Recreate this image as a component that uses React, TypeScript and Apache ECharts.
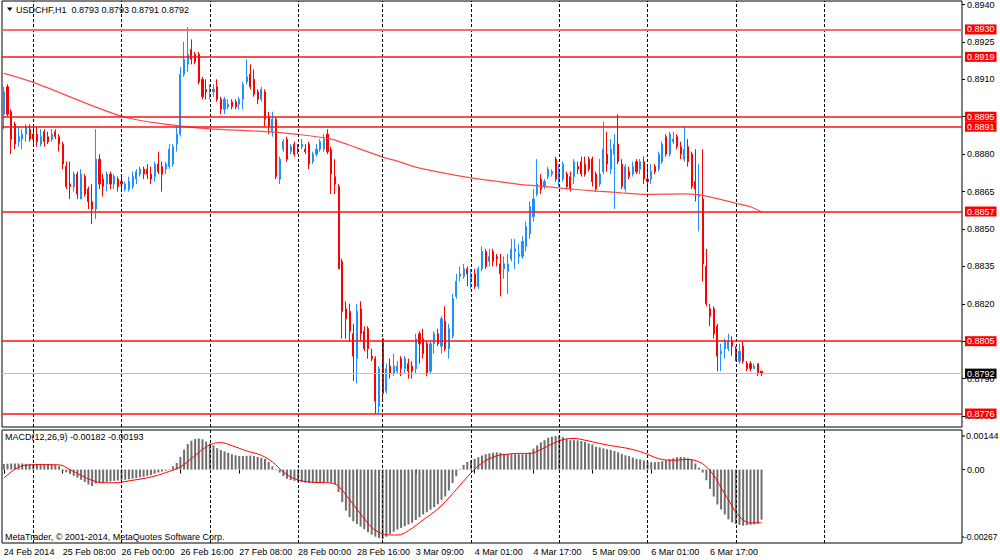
import React, { useEffect, useRef } from "react";
import * as echarts from "echarts";

const N_SLOTS = 261;

const opens = [
  0.8896, 0.8907, 0.8897, 0.8892, 0.8885, 0.8886, 0.8888, 0.889, 0.8888, 0.8888,
  0.8884, 0.8889, 0.8887, 0.8886, 0.8889, 0.8887, 0.8884, 0.8875, 0.8868, 0.8867,
  0.8872, 0.8862, 0.8871, 0.8866, 0.8861, 0.8858, 0.8878, 0.887, 0.8868, 0.8872,
  0.8868, 0.887, 0.8869, 0.8866, 0.8866, 0.8867, 0.887, 0.8872, 0.8874, 0.8874,
  0.8872, 0.8871, 0.8876, 0.8875, 0.8874, 0.8875, 0.8876, 0.8884, 0.8888, 0.8912,
  0.8916, 0.8922, 0.892, 0.892, 0.891, 0.8906, 0.8905, 0.8905, 0.8907, 0.8902,
  0.8898, 0.8899, 0.8901, 0.8901, 0.89, 0.8902, 0.8909, 0.8912, 0.891, 0.8905,
  0.8902, 0.8905, 0.8895, 0.8889, 0.8894, 0.887, 0.8882, 0.8886, 0.8881, 0.8884,
  0.8882, 0.8883, 0.8882, 0.8884, 0.8877, 0.888, 0.8882, 0.8882, 0.8888, 0.8882,
  0.8871, 0.8867, 0.8837, 0.8818, 0.8817, 0.8808, 0.8798, 0.8818, 0.8809, 0.881,
  0.8799, 0.8798, 0.8779, 0.8806, 0.8785, 0.8795, 0.8792, 0.8793, 0.8798, 0.8794,
  0.8796, 0.8795, 0.8794, 0.8808, 0.8806, 0.8804, 0.8793, 0.8804, 0.8808, 0.8803,
  0.8813, 0.8802, 0.8807, 0.8823, 0.8831, 0.8831, 0.8834, 0.883, 0.8832, 0.8827,
  0.8834, 0.8841, 0.8837, 0.8841, 0.8839, 0.8836, 0.8834, 0.8833, 0.8838, 0.8841,
  0.8839, 0.8839, 0.8843, 0.8848, 0.8855, 0.8864, 0.887, 0.8867, 0.8871, 0.8872,
  0.8878, 0.887, 0.887, 0.8872, 0.8871, 0.8871, 0.8875, 0.8877, 0.8876, 0.8878,
  0.8878, 0.8872, 0.8868, 0.8873, 0.888, 0.8874, 0.888, 0.8884, 0.8876, 0.8866,
  0.8873, 0.8872, 0.8877, 0.8874, 0.8877, 0.887, 0.887, 0.8875, 0.8874, 0.8877,
  0.8887, 0.888, 0.8885, 0.8887, 0.8883, 0.8878, 0.8883, 0.888, 0.8869, 0.8863,
  0.8862, 0.8835, 0.8818, 0.8818, 0.8811, 0.88, 0.8802, 0.8802, 0.8805, 0.8802,
  0.8797, 0.8803, 0.8796, 0.8796, 0.8794, 0.8796, 0.8793,
];

const closes = [
  0.8905, 0.8896, 0.8886, 0.8884, 0.8887, 0.8888, 0.8891, 0.8886, 0.8886, 0.8885,
  0.8887, 0.8885, 0.8885, 0.8888, 0.8887, 0.8884, 0.8876, 0.8867, 0.8867, 0.8872,
  0.8864, 0.8872, 0.8864, 0.8861, 0.8858, 0.8878, 0.8868, 0.8867, 0.8872, 0.8868,
  0.8871, 0.8867, 0.8868, 0.8868, 0.8869, 0.8871, 0.8873, 0.8874, 0.8872, 0.8872,
  0.887, 0.8876, 0.8873, 0.8872, 0.8876, 0.8882, 0.8883, 0.8888, 0.8912, 0.8918,
  0.892, 0.8918, 0.8917, 0.8909, 0.8903, 0.8905, 0.8906, 0.8906, 0.8902, 0.8898,
  0.8902, 0.89, 0.8899, 0.8899, 0.8902, 0.8908, 0.8911, 0.8907, 0.8904, 0.8902,
  0.8906, 0.8894, 0.8891, 0.8894, 0.8871, 0.8878, 0.8885, 0.8878, 0.8883, 0.888,
  0.8881, 0.8884, 0.8881, 0.8876, 0.888, 0.8882, 0.8885, 0.8886, 0.8881, 0.8872,
  0.8868, 0.8834, 0.8817, 0.8814, 0.8809, 0.8799, 0.8817, 0.8808, 0.8802, 0.8802,
  0.8798, 0.8781, 0.8794, 0.8784, 0.8794, 0.8792, 0.8795, 0.8795, 0.8794, 0.8798,
  0.8793, 0.8793, 0.8806, 0.8804, 0.88, 0.8792, 0.8804, 0.8808, 0.8804, 0.8814,
  0.8802, 0.881, 0.8822, 0.8829, 0.8832, 0.8834, 0.8832, 0.8832, 0.8827, 0.8834,
  0.8841, 0.8835, 0.8839, 0.8837, 0.8838, 0.8832, 0.8836, 0.8836, 0.8842, 0.8842,
  0.884, 0.8845, 0.8851, 0.8859, 0.8862, 0.8868, 0.8866, 0.8869, 0.8874, 0.8873,
  0.887, 0.8874, 0.8876, 0.8867, 0.8866, 0.8877, 0.8874, 0.8872, 0.8872, 0.8874,
  0.8869, 0.8866, 0.8872, 0.8882, 0.8876, 0.8882, 0.8884, 0.8877, 0.8867, 0.8875,
  0.8871, 0.8875, 0.8873, 0.8877, 0.887, 0.8869, 0.8873, 0.8873, 0.888, 0.8884,
  0.888, 0.8888, 0.8886, 0.8883, 0.888, 0.8882, 0.8877, 0.8867, 0.8866, 0.8864,
  0.8836, 0.882, 0.8815, 0.8808, 0.8799, 0.8801, 0.8805, 0.8805, 0.8803, 0.8798,
  0.8801, 0.8797, 0.8794, 0.8794, 0.8795, 0.8792, 0.8792,
];

const lows = [
  0.889, 0.8895, 0.888, 0.8882, 0.8883, 0.8882, 0.8885, 0.8885, 0.8884, 0.8883,
  0.8883, 0.8883, 0.8884, 0.8885, 0.8886, 0.8881, 0.8874, 0.8866, 0.8862, 0.8865,
  0.8862, 0.8862, 0.8863, 0.8858, 0.8852, 0.8854, 0.8866, 0.8863, 0.8865, 0.8866,
  0.8866, 0.8865, 0.8866, 0.8865, 0.8865, 0.8866, 0.8868, 0.8871, 0.887, 0.887,
  0.8868, 0.8869, 0.8872, 0.8865, 0.8872, 0.8874, 0.8875, 0.8881, 0.8887, 0.8911,
  0.8913, 0.8916, 0.8916, 0.8908, 0.8902, 0.8902, 0.8902, 0.8903, 0.8901, 0.8896,
  0.8896, 0.8898, 0.8898, 0.8898, 0.8898, 0.8898, 0.8908, 0.8906, 0.8903, 0.89,
  0.8901, 0.8891, 0.8888, 0.8887, 0.887, 0.8868, 0.8881, 0.8877, 0.888, 0.8879,
  0.888, 0.8882, 0.888, 0.8874, 0.8876, 0.8879, 0.8881, 0.8881, 0.888, 0.8864,
  0.8864, 0.8834, 0.8806, 0.8806, 0.8805, 0.8789, 0.8788, 0.8805, 0.8801, 0.8798,
  0.8797, 0.8776, 0.8776, 0.8781, 0.8784, 0.879, 0.8791, 0.8792, 0.8791, 0.8792,
  0.879, 0.879, 0.8792, 0.8796, 0.8798, 0.8791, 0.8792, 0.88, 0.8803, 0.88,
  0.8801, 0.8798, 0.8806, 0.8822, 0.8829, 0.883, 0.8827, 0.8826, 0.8826, 0.8826,
  0.8833, 0.8834, 0.8835, 0.8835, 0.8835, 0.8823, 0.883, 0.8824, 0.8837, 0.8834,
  0.8836, 0.8838, 0.8841, 0.8846, 0.8853, 0.8863, 0.8864, 0.8866, 0.887, 0.8871,
  0.8869, 0.8867, 0.8869, 0.8866, 0.8865, 0.8868, 0.8872, 0.8871, 0.8871, 0.8873,
  0.8867, 0.8865, 0.8867, 0.8872, 0.8873, 0.8872, 0.8858, 0.8876, 0.8866, 0.8865,
  0.887, 0.8871, 0.8872, 0.8872, 0.8868, 0.8866, 0.8868, 0.8872, 0.8873, 0.8876,
  0.8879, 0.8879, 0.8884, 0.8882, 0.8878, 0.8877, 0.8875, 0.8866, 0.8861, 0.8849,
  0.8829, 0.8819, 0.8811, 0.8806, 0.8793, 0.8793, 0.8798, 0.8801, 0.8799, 0.8797,
  0.8796, 0.8796, 0.8793, 0.8793, 0.8794, 0.8791, 0.8791,
];

const highs = [
  0.8907, 0.8908, 0.8898, 0.8893, 0.8891, 0.889, 0.8892, 0.8892, 0.8891, 0.8891,
  0.889, 0.889, 0.8889, 0.889, 0.889, 0.8888, 0.8885, 0.8877, 0.8877, 0.8873,
  0.8873, 0.8874, 0.8872, 0.8867, 0.8868, 0.889, 0.888, 0.8872, 0.8873, 0.8873,
  0.8872, 0.8871, 0.8871, 0.8869, 0.8871, 0.8873, 0.8874, 0.8875, 0.8875, 0.8876,
  0.8875, 0.8877, 0.8881, 0.8877, 0.8877, 0.8884, 0.8884, 0.8891, 0.8915, 0.8925,
  0.8931, 0.8926, 0.8921, 0.8921, 0.8911, 0.891, 0.8908, 0.8908, 0.891, 0.8903,
  0.8903, 0.8902, 0.8902, 0.8902, 0.8903, 0.8909, 0.8918, 0.8916, 0.8914, 0.8906,
  0.8907, 0.8906, 0.8897, 0.8897, 0.8895, 0.8879, 0.8886, 0.8887, 0.8884, 0.8885,
  0.8884, 0.8886, 0.8884, 0.8885, 0.8881, 0.8884, 0.8886, 0.8888, 0.889, 0.8883,
  0.8878, 0.8868, 0.8838, 0.8821, 0.882, 0.8812, 0.882, 0.8821, 0.8811, 0.8811,
  0.8802, 0.8799, 0.8795, 0.8806, 0.8796, 0.8798, 0.88, 0.8797, 0.8799, 0.8799,
  0.8798, 0.8797, 0.8808, 0.8809, 0.881, 0.8805, 0.8805, 0.8809, 0.881, 0.8815,
  0.8819, 0.8812, 0.8824, 0.8832, 0.8835, 0.8836, 0.8835, 0.8834, 0.8834, 0.8835,
  0.8843, 0.8842, 0.8842, 0.8842, 0.884, 0.884, 0.8839, 0.884, 0.8846, 0.8846,
  0.8844, 0.8847, 0.8853, 0.8861, 0.8866, 0.8878, 0.8872, 0.887, 0.8875, 0.8874,
  0.8879, 0.8876, 0.8877, 0.8873, 0.8873, 0.8878, 0.8877, 0.8879, 0.8879, 0.8879,
  0.8879, 0.8873, 0.8878, 0.8893, 0.8889, 0.8886, 0.8888, 0.8896, 0.8878, 0.8876,
  0.8875, 0.8877, 0.8878, 0.8878, 0.8879, 0.8875, 0.8876, 0.8876, 0.8881, 0.8885,
  0.8888, 0.8889, 0.8889, 0.8888, 0.8885, 0.8891, 0.8886, 0.8881, 0.8882, 0.8876,
  0.8882, 0.8842, 0.882, 0.8819, 0.8812, 0.8804, 0.8806, 0.8808, 0.8807, 0.8803,
  0.8804, 0.8805, 0.8797, 0.8797, 0.8796, 0.8796, 0.8793,
];

const macdHist = [
  0.0002, 0.00021, 0.00022, 0.00022, 0.00022, 0.00022, 0.00021, 0.0002, 0.0002, 0.00021,
  0.00021, 0.0002, 0.0002, 0.00018, 0.00017, 0.00012, -0.00005, -0.0001, -0.00016, -0.00023,
  -0.00029, -0.00037, -0.00045, -0.00054, -0.0006, -0.00051, -0.00049, -0.00048, -0.00045, -0.00043,
  -0.00041, -0.0004, -0.00039, -0.00037, -0.00035, -0.00033, -0.00031, -0.00028, -0.00026, -0.00023,
  -0.0002, -0.00015, -0.00011, -0.00007, -0.00004, 0.00002, 0.00012, 0.00024, 0.00046, 0.00073,
  0.00093, 0.00105, 0.00111, 0.00113, 0.0011, 0.00102, 0.00095, 0.00088, 0.00078, 0.00071,
  0.00066, 0.00061, 0.00056, 0.00052, 0.00049, 0.00049, 0.0005, 0.00051, 0.00049, 0.00046,
  0.00043, 0.00039, 0.00028, 0.00012, -0.00002, -0.00011, -0.00024, -0.00033, -0.00038, -0.00041,
  -0.00045, -0.00046, -0.00048, -0.00049, -0.00049, -0.00049, -0.00049, -0.00046, -0.00045, -0.00048,
  -0.00054, -0.00082, -0.00118, -0.00149, -0.00173, -0.00188, -0.00198, -0.00207, -0.00217, -0.00228,
  -0.00237, -0.00244, -0.00249, -0.00253, -0.00244, -0.00234, -0.00226, -0.00218, -0.00212, -0.00206,
  -0.002, -0.00193, -0.00183, -0.00173, -0.00163, -0.00155, -0.00146, -0.00137, -0.00126, -0.0011,
  -0.00098, -0.00076, -0.00049, -0.00024, 0.00002, 0.00017, 0.00028, 0.00034, 0.00039, 0.00045,
  0.00051, 0.00056, 0.00059, 0.00061, 0.00063, 0.00061, 0.00057, 0.00056, 0.00056, 0.00056,
  0.00056, 0.00056, 0.00057, 0.00062, 0.00076, 0.00088, 0.00099, 0.00107, 0.00116, 0.0012,
  0.00122, 0.00122, 0.00118, 0.00111, 0.00107, 0.00107, 0.00106, 0.00104, 0.001, 0.00095,
  0.00092, 0.00083, 0.00081, 0.00077, 0.00074, 0.00072, 0.00068, 0.00063, 0.00057, 0.00052,
  0.00049, 0.00044, 0.00039, 0.00037, 0.00033, 0.00029, 0.00027, 0.00027, 0.00028, 0.00031,
  0.00034, 0.00038, 0.00041, 0.00045, 0.00046, 0.00045, 0.00041, 0.00035, 0.00022, 0.00007,
  -0.00011, -0.00039, -0.0007, -0.00098, -0.00127, -0.00145, -0.00163, -0.00181, -0.00192, -0.00198,
  -0.00201, -0.00204, -0.00202, -0.00201, -0.00199, -0.00196, -0.00182,
];

// [bar index, value]
const signalPoints: [number, number][] = [
  [0, -0.00031], [3, 0.00001], [6, 0.00016], [10, 0.00018], [15, 0.00017], [18, 0], [21, -0.00021],
  [24, -0.00039], [27, -0.00048], [30, -0.00048], [34, -0.00041], [40, -0.00027], [44, -0.00011],
  [48, 0.0001], [51, 0.0004], [54, 0.00073], [57, 0.00095], [59, 0.00098], [62, 0.00087], [66, 0.00068],
  [70, 0.00052], [73, 0.00028], [76, -0.00009], [79, -0.00033], [83, -0.00045], [89, -0.00049],
  [91, -0.00061], [94, -0.0011], [97, -0.00161], [100, -0.0021], [102, -0.00228], [104, -0.00237],
  [107, -0.00238], [110, -0.00222], [114, -0.00183], [118, -0.00143], [122, -0.00088], [126, -0.00027],
  [130, 0.00024], [134, 0.0005], [137, 0.00056], [140, 0.00059], [143, 0.00059], [146, 0.00073],
  [149, 0.00093], [152, 0.00109], [155, 0.00113], [158, 0.00107], [162, 0.00095], [166, 0.00085],
  [170, 0.00076], [174, 0.00061], [178, 0.0004], [182, 0.00034], [186, 0.00037], [189, 0.00028],
  [191, 0.0001], [193, -0.00021], [195, -0.00066], [197, -0.0011], [199, -0.00155], [201, -0.00183],
  [203, -0.00194], [206, -0.00193],
];

// [bar index, value]
const maPoints: [number, number][] = [
  [0, 0.89124], [8, 0.89088], [32, 0.88952], [46, 0.88916], [56, 0.88901], [69, 0.88892],
  [80, 0.88879], [89, 0.8886], [96, 0.88825], [103, 0.88788], [107, 0.88772], [112, 0.88748],
  [120, 0.88723], [127, 0.88705], [132, 0.88695], [140, 0.88679], [146, 0.88672], [152, 0.88663],
  [161, 0.88652], [168, 0.88645], [175, 0.88639], [185, 0.88641], [188, 0.88639], [191, 0.88632],
  [199, 0.88603], [203, 0.88589], [206, 0.88568],
];

const levelLines = [0.893, 0.8919, 0.8895, 0.8891, 0.8857, 0.8805, 0.8776];
const priceTicks = [0.8775, 0.879, 0.8805, 0.882, 0.8835, 0.885, 0.8865, 0.888, 0.8895, 0.891, 0.8925, 0.894];
const macdMax = 0.00144;
const macdMin = -0.00267;
const gridBars = [8, 32, 56, 80, 103, 127, 151, 175, 199, 223];
const labelBars = [0, 16, 32, 48, 64, 80, 96, 112, 128, 144, 160, 176, 192];
const timeLabels = [
  "24 Feb 2014", "25 Feb 08:00", "26 Feb 00:00", "26 Feb 16:00", "27 Feb 08:00", "28 Feb 00:00",
  "28 Feb 16:00", "3 Mar 09:00", "4 Mar 01:00", "4 Mar 17:00", "5 Mar 09:00", "6 Mar 01:00", "6 Mar 17:00",
];

const FONT = "Liberation Sans";

export default function App() {
  const ref = useRef<HTMLDivElement>(null);
  useEffect(() => {
    if (!ref.current) return;
    const chart = echarts.init(ref.current, null, { renderer: "svg" });
    const cats = Array.from({ length: N_SLOTS }, (_, i) => String(i));
    const candles = opens.map((o, i) => [o, closes[i], lows[i], highs[i]]);
    const maData: (number | null)[] = Array(N_SLOTS).fill(null);
    maPoints.forEach(([b, v]) => (maData[b] = v));
    const sigData: (number | null)[] = Array(N_SLOTS).fill(null);
    signalPoints.forEach(([b, v]) => (sigData[b] = v));
    const last = opens.length - 1;
    const labelMap: Record<number, string> = {};
    labelBars.forEach((b, k) => (labelMap[b] = timeLabels[k]));
    const bid = closes[last];

    const tag = (bg: string, text: string) => ({
      show: true,
      position: "end",
      formatter: text,
      color: "#fff",
      backgroundColor: bg,
      padding: [1, 2, 0, 2],
      fontSize: 9,
      fontFamily: FONT,
      distance: 3,
    });

    const vLines = () =>
      gridBars.map((b) => ({
        xAxis: b,
        lineStyle: { color: "#000", type: [3, 2], width: 1 },
        label: { show: false },
      }));

    const hLines = [
      ...levelLines.map((v, k) => ({
        yAxis: v,
        lineStyle: { color: k === 0 ? "#ff6a6a" : "#ff1010", width: k === 0 ? 2 : 1.5, type: "solid" },
        label: tag("#ff0000", v.toFixed(4)),
      })),
      {
        yAxis: bid,
        lineStyle: { color: "#c0c0c0", width: 1, type: "solid" },
        label: tag("#000000", bid.toFixed(4)),
      },
    ];

    const txt = (x: number, y: number, text: string, size = 9) => ({
      type: "text", x, y, z: 100,
      style: { text, fontSize: size, fontFamily: FONT, fill: "#000", verticalAlign: "middle" },
    });

    const option: any = {
      animation: false,
      backgroundColor: "#fff",
      textStyle: { fontFamily: FONT, fontSize: 9, color: "#000" },
      grid: [
        { left: 2, top: 0, width: 960, height: 427, show: true, borderColor: "#000", borderWidth: 1, backgroundColor: "#fff" },
        { left: 2, top: 430, width: 960, height: 113, show: true, borderColor: "#000", borderWidth: 1, backgroundColor: "#fff" },
      ],
      xAxis: [
        {
          type: "category", gridIndex: 0, data: cats, boundaryGap: true,
          axisLine: { show: false }, axisTick: { show: false }, axisLabel: { show: false }, splitLine: { show: false },
        },
        {
          type: "category", gridIndex: 1, data: cats, boundaryGap: true,
          axisLine: { show: false },
          axisTick: {
            show: true, alignWithLabel: true, length: 4, lineStyle: { color: "#000" },
            interval: (i: number) => labelMap[i] !== undefined,
          },
          axisLabel: {
            interval: (i: number) => labelMap[i] !== undefined,
            formatter: (_v: string, i: number) => labelMap[i] ?? "",
            align: "left", margin: 4, fontSize: 9, fontFamily: FONT, color: "#000",
          },
          splitLine: { show: false },
        },
      ],
      yAxis: [
        {
          type: "value", gridIndex: 0, position: "right", min: 0.87706, max: 0.89414,
          axisLine: { show: false }, splitLine: { show: false },
          axisTick: { show: true, length: 3, customValues: priceTicks, lineStyle: { color: "#000" } },
          axisLabel: {
            customValues: priceTicks, formatter: (v: number) => v.toFixed(4),
            margin: 5, fontSize: 9, fontFamily: FONT, color: "#000",
          },
        },
        {
          type: "value", gridIndex: 1, position: "right", min: macdMin, max: macdMax,
          axisLine: { show: false }, splitLine: { show: false },
          axisTick: { show: true, length: 3, customValues: [0], lineStyle: { color: "#000" } },
          axisLabel: {
            customValues: [0],
            formatter: () => "0.00",
            margin: 5, fontSize: 9, fontFamily: FONT, color: "#000",
          },
        },
      ],
      series: [
        {
          type: "candlestick", xAxisIndex: 0, yAxisIndex: 0, data: candles, barWidth: 1.6,
          itemStyle: { color: "#1e90ff", color0: "#ff0000", borderColor: "#1e90ff", borderColor0: "#ff0000", borderWidth: 1 },
          emphasis: { disabled: true },
          markLine: {
            silent: true, symbol: ["none", "none"], animation: false, precision: 5,
            data: vLines(),
          },
        },
        {
          type: "line", xAxisIndex: 0, yAxisIndex: 0, data: maData, connectNulls: true, showSymbol: false,
          smooth: 0.3, lineStyle: { color: "#ff4a4a", width: 1.2 }, emphasis: { disabled: true },
          markLine: {
            silent: true, symbol: ["none", "none"], animation: false, precision: 5,
            data: hLines,
          },
        },
        {
          type: "bar", xAxisIndex: 1, yAxisIndex: 1, data: macdHist, barWidth: 2,
          itemStyle: { color: "#6e6e6e" }, emphasis: { disabled: true },
          markLine: { silent: true, symbol: ["none", "none"], animation: false, data: vLines() },
        },
        {
          type: "line", xAxisIndex: 1, yAxisIndex: 1, data: sigData, connectNulls: true, showSymbol: false,
          smooth: 0.4, lineStyle: { color: "#ff0000", width: 1 }, emphasis: { disabled: true },
        },
      ],
      graphic: [
        { type: "polygon", shape: { points: [[7, 7.5], [12.5, 7.5], [9.75, 11]] }, style: { fill: "#000" } },
        txt(16, 9.5, `USDCHF,H1  ${opens[last].toFixed(4)} ${highs[last].toFixed(4)} ${lows[last].toFixed(4)} ${closes[last].toFixed(4)}`),
        txt(5, 437, `MACD(12,26,9) ${macdHist[last].toFixed(5)} ${signalPoints[signalPoints.length - 1][1].toFixed(5)}`),
        txt(5, 537, "MetaTrader, © 2001-2014, MetaQuotes Software Corp."),
        txt(966, 436, macdMax.toFixed(5)),
        txt(964, 537, macdMin.toFixed(5), 8.5),
        { type: "line", shape: { x1: 962, y1: 436, x2: 965, y2: 436 }, style: { stroke: "#000", lineWidth: 1 } },
        { type: "line", shape: { x1: 962, y1: 537, x2: 964, y2: 537 }, style: { stroke: "#000", lineWidth: 1 } },
      ],
    };
    chart.setOption(option);
    return () => chart.dispose();
  }, []);
  return (
    <div
      ref={ref}
      style={{ position: "fixed", left: 0, top: 0, width: 1000, height: 560, background: "#fff" }}
    />
  );
}
